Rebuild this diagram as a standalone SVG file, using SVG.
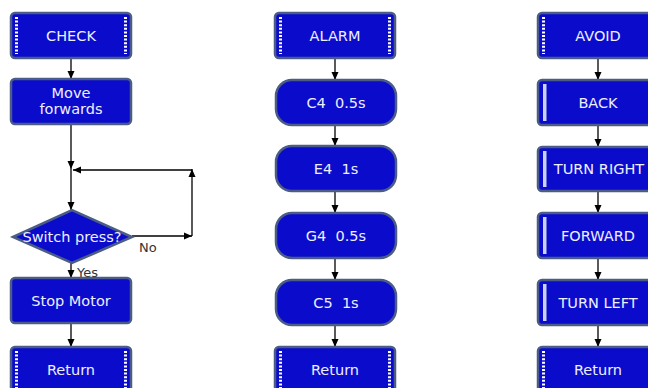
<svg xmlns="http://www.w3.org/2000/svg" width="648" height="388" viewBox="0 0 648 388">
<defs>
<marker id="ah" markerUnits="userSpaceOnUse" markerWidth="8" markerHeight="8" viewBox="0 0 8 8" refX="8" refY="4" orient="auto">
<path d="M0,0.5 L8,4 L0,7.5 Z" fill="#000"/>
</marker>
<style>
.box{fill:#0b0bcc;stroke:#4b5d86;stroke-width:2.5}
.dots{stroke:#ffffff;stroke-width:3;stroke-dasharray:2 1.6}
.bar{fill:#c9d2f2}
.t{font-family:"DejaVu Sans",Verdana,sans-serif;font-size:14.5px;fill:#eef0ff;text-anchor:middle}
.lbl{font-family:"DejaVu Sans",Verdana,sans-serif;font-size:13px;fill:#333}
.c{stroke:#000;stroke-width:1.3;fill:none}
.ca{stroke:#000;stroke-width:1.3;fill:none;marker-end:url(#ah)}
</style>
</defs>
<rect width="648" height="388" fill="#ffffff"/>

<g id="connectors">
<line class="ca" x1="71" y1="58" x2="71" y2="79"/>
<line class="ca" x1="71" y1="124" x2="71" y2="169"/>
<line class="ca" x1="71" y1="169" x2="71" y2="210"/>
<line class="ca" x1="132" y1="236" x2="192" y2="236"/>
<line class="ca" x1="192" y1="236" x2="192" y2="169"/>
<line class="ca" x1="192" y1="170" x2="73" y2="170"/>
<line class="ca" x1="71" y1="263" x2="71" y2="278"/>
<line class="ca" x1="71" y1="323" x2="71" y2="347"/>
<line class="ca" x1="335" y1="58" x2="335" y2="80"/>
<line class="ca" x1="335" y1="125" x2="335" y2="146"/>
<line class="ca" x1="335" y1="191" x2="335" y2="213"/>
<line class="ca" x1="335" y1="258" x2="335" y2="280"/>
<line class="ca" x1="335" y1="325" x2="335" y2="347"/>
<line class="ca" x1="598" y1="58" x2="598" y2="80"/>
<line class="ca" x1="598" y1="125" x2="598" y2="147"/>
<line class="ca" x1="598" y1="191" x2="598" y2="213"/>
<line class="ca" x1="598" y1="258" x2="598" y2="280"/>
<line class="ca" x1="598" y1="325" x2="598" y2="347"/>
<text class="lbl" x="139" y="252">No</text>
<text class="lbl" x="77" y="277">Yes</text>
</g>

<g id="check">
<rect class="box" x="11" y="13" width="120" height="45" rx="4"/>
<line class="dots" x1="16.5" y1="17" x2="16.5" y2="54"/>
<line class="dots" x1="125.5" y1="17" x2="125.5" y2="54"/>
<text class="t" x="71" y="41">CHECK</text>
</g>
<g id="move-forwards">
<rect class="box" x="11" y="79" width="120" height="45" rx="4"/>
<text class="t" x="71" y="98">Move</text>
<text class="t" x="71" y="114">forwards</text>
</g>
<g id="switch-press">
<polygon class="box" points="13,237 72,210 132,237 72,263"/>
<text class="t" x="72" y="242">Switch press?</text>
</g>
<g id="stop-motor">
<rect class="box" x="11" y="278" width="120" height="45" rx="4"/>
<text class="t" x="71" y="306">Stop Motor</text>
</g>
<g id="return-left">
<rect class="box" x="11" y="347" width="120" height="46" rx="4"/>
<line class="dots" x1="16.5" y1="351" x2="16.5" y2="390"/>
<line class="dots" x1="125.5" y1="351" x2="125.5" y2="390"/>
<text class="t" x="71" y="375">Return</text>
</g>

<g id="alarm">
<rect class="box" x="275" y="13" width="120" height="45" rx="4"/>
<line class="dots" x1="280.5" y1="17" x2="280.5" y2="54"/>
<line class="dots" x1="389.5" y1="17" x2="389.5" y2="54"/>
<text class="t" x="335" y="41">ALARM</text>
</g>
<g id="c4">
<rect class="box" x="276" y="80" width="120" height="45" rx="16"/>
<text class="t" x="336" y="108" xml:space="preserve">C4  0.5s</text>
</g>
<g id="e4">
<rect class="box" x="276" y="146" width="120" height="45" rx="16"/>
<text class="t" x="336" y="174" xml:space="preserve">E4  1s</text>
</g>
<g id="g4">
<rect class="box" x="276" y="213" width="120" height="45" rx="16"/>
<text class="t" x="336" y="241" xml:space="preserve">G4  0.5s</text>
</g>
<g id="c5">
<rect class="box" x="276" y="280" width="120" height="45" rx="16"/>
<text class="t" x="336" y="308" xml:space="preserve">C5  1s</text>
</g>
<g id="return-mid">
<rect class="box" x="275" y="347" width="120" height="46" rx="4"/>
<line class="dots" x1="280.5" y1="351" x2="280.5" y2="390"/>
<line class="dots" x1="389.5" y1="351" x2="389.5" y2="390"/>
<text class="t" x="335" y="375">Return</text>
</g>

<g id="avoid">
<rect class="box" x="538" y="13" width="120" height="45" rx="4"/>
<line class="dots" x1="543.5" y1="17" x2="543.5" y2="54"/>
<text class="t" x="598" y="41">AVOID</text>
</g>
<g id="back">
<rect class="box" x="538" y="80" width="120" height="45" rx="4"/>
<rect class="bar" x="543" y="84" width="3.5" height="37"/>
<text class="t" x="598" y="108">BACK</text>
</g>
<g id="turn-right">
<rect class="box" x="538" y="147" width="120" height="44" rx="4"/>
<rect class="bar" x="543" y="151" width="3.5" height="36"/>
<text class="t" x="599" y="174">TURN RIGHT</text>
</g>
<g id="forward">
<rect class="box" x="538" y="213" width="120" height="45" rx="4"/>
<rect class="bar" x="543" y="217" width="3.5" height="37"/>
<text class="t" x="598" y="241">FORWARD</text>
</g>
<g id="turn-left">
<rect class="box" x="538" y="280" width="120" height="45" rx="4"/>
<rect class="bar" x="543" y="284" width="3.5" height="37"/>
<text class="t" x="598" y="308">TURN LEFT</text>
</g>
<g id="return-right">
<rect class="box" x="538" y="347" width="120" height="46" rx="4"/>
<line class="dots" x1="543.5" y1="351" x2="543.5" y2="390"/>
<text class="t" x="598" y="375">Return</text>
</g>
</svg>
